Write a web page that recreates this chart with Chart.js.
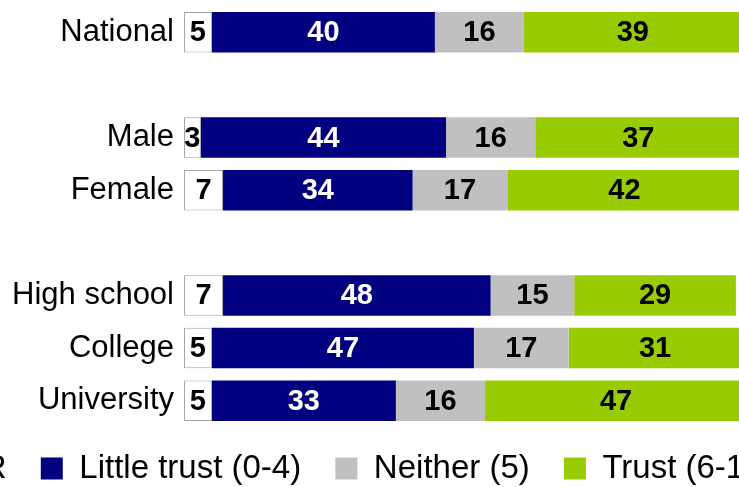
<!DOCTYPE html>
<html>
<head>
<meta charset="utf-8">
<script src="https://cdn.jsdelivr.net/npm/chart.js@4"></script>
<style>
	html, body { margin: 0; padding: 0; background: #fff; overflow: hidden; }
	body { width: 739px; height: 487px; position: relative; }
	#trustChart { position: absolute; left: -181px; top: 0; }
</style>
</head>
<body>
<canvas id="trustChart" width="1034" height="495"></canvas>
<script>
const groupLabels = ["National", "", "Male", "Female", "", "High school", "College", "University"];
const dkValues = [5, null, 3, 7, null, 7, 5, 5];
const littleTrust = [40, null, 44, 34, null, 48, 47, 33];
const neitherValues = [16, null, 16, 17, null, 15, 17, 16];
const trustValues = [39, null, 37, 42, null, 29, 31, 47];
const seriesNames = ["DK/R", "Little trust (0-4)", "Neither (5)", "Trust (6-10)"];

// draw the numbers in the middle of every segment
const segmentLabels = {
	id: "segmentLabels",
	afterDatasetsDraw(chart) {
		const ctx = chart.ctx;
		const colours = ["#000", "#fff", "#000", "#000"];
		ctx.save();
		ctx.font = "bold 29px 'Liberation Sans', Arial, sans-serif";
		ctx.textAlign = "center";
		ctx.textBaseline = "middle";
		chart.data.datasets.forEach((ds, i) => {
			const meta = chart.getDatasetMeta(i);
			meta.data.forEach((bar, j) => {
				const v = ds.data[j];
				if (v === null || v === undefined) return;
				const p = bar.getProps(["x", "y", "base"], true);
				ctx.fillStyle = colours[i];
				ctx.fillText(String(v), (p.x + p.base) / 2, p.y + 1);
			});
		});
		ctx.restore();
	},
};

const ctx = document.getElementById("trustChart").getContext("2d");

new Chart(ctx, {
	type: "bar",
	data: {
		labels: groupLabels,
		datasets: [
			{
				label: seriesNames[0],
				data: dkValues,
				backgroundColor: "#ffffff",
				borderColor: "#a6a6a6",
				borderWidth: 1,
				borderSkipped: false,
			},
			{
				label: seriesNames[1],
				data: littleTrust,
				backgroundColor: "#000080",
				borderWidth: 0,
			},
			{
				label: seriesNames[2],
				data: neitherValues,
				backgroundColor: "#c0c0c0",
				borderWidth: 0,
			},
			{
				label: seriesNames[3],
				data: trustValues,
				backgroundColor: "#99cc00",
				borderWidth: 0,
			},
		],
	},
	options: {
		indexAxis: "y",
		responsive: false,
		animation: false,
		devicePixelRatio: 1,
		datasets: {
			bar: {
				categoryPercentage: 1,
				barPercentage: 0.77,
			},
		},
		layout: {
			padding: { top: 6, right: 0, left: 0, bottom: 0 },
		},
		scales: {
			x: {
				stacked: true,
				min: 0,
				max: 120,
				display: false,
			},
			y: {
				stacked: true,
				grid: { display: false, drawTicks: false },
				border: { display: false },
				ticks: {
					color: "#000",
					padding: 10,
					font: { family: "'Liberation Sans', Arial, sans-serif", size: 31 },
				},
				afterFit: function (scale) {
					scale.width = 365;
					scale.paddingTop = 0;
					scale.paddingBottom = 0;
				},
			},
		},
		plugins: {
			legend: {
				display: true,
				position: "bottom",
				labels: {
					color: "#000",
					boxWidth: 22,
					boxHeight: 22,
					padding: 25,
					font: { family: "'Liberation Sans', Arial, sans-serif", size: 33 },
					generateLabels: function (chart) {
						const items = Chart.defaults.plugins.legend.labels.generateLabels(chart);
						return items.map((item) => {
							item.text = item.text + " ";
							return item;
						});
					},
				},
			},
			tooltip: { enabled: false },
		},
	},
	plugins: [segmentLabels],
});
</script>
</body>
</html>
